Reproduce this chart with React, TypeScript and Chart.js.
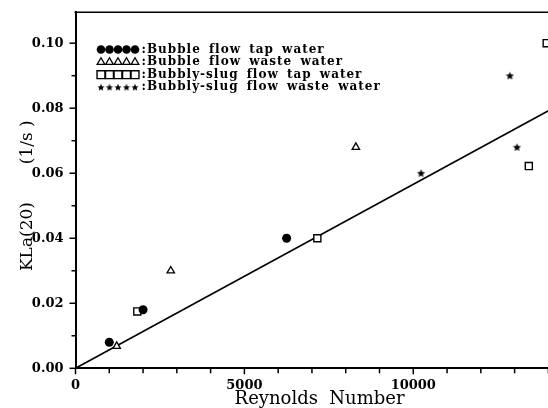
import React, { useEffect, useRef } from 'react';
import { Chart, registerables } from 'chart.js';
import { drawPoint } from 'chart.js/helpers';

Chart.register(...registerables);

// ---- data ----
const bubbleTapX = [1000, 2000, 6250];
const bubbleTapY = [0.008, 0.018, 0.04];
const bubbleWasteX = [1220, 2820, 8300];
const bubbleWasteY = [0.0068, 0.03, 0.068];
const slugTapX = [1830, 7160, 13420, 13950];
const slugTapY = [0.0175, 0.04, 0.0622, 0.1];
const slugWasteX = [10230, 12860, 13070];
const slugWasteY = [0.06, 0.09, 0.068];
const fitX = [0, 14000];
const fitY = [0, 0.0792];
const seriesLabels = [
  'Bubble flow tap water',
  'Bubble flow waste water',
  'Bubbly-slug flow tap water',
  'Bubbly-slug flow waste water',
];
// tick positions (every tick mark) and which of them carry a label
const xTickValues = [0, 1000, 2000, 3000, 4000, 5000, 6000, 7000, 8000, 9000, 10000, 11000, 12000, 13000, 14000];
const xTickLabels = [0, 5000, 10000];
const yTickValues = [0, 0.01, 0.02, 0.03, 0.04, 0.05, 0.06, 0.07, 0.08, 0.09, 0.1];
const yTickLabels = ['0.00', '0.02', '0.04', '0.06', '0.08', '0.10'];

const SERIF = "'DejaVu Serif', serif";

function pts(xs: number[], ys: number[]) {
  return xs.map((x, i) => ({ x, y: ys[i] }));
}

function makeStar(size: number): HTMLCanvasElement {
  const c = document.createElement('canvas');
  c.width = size;
  c.height = size;
  const g = c.getContext('2d')!;
  const cx = size / 2;
  const cy = size / 2 + 0.3;
  const ro = size / 2 - 0.2;
  const ri = ro * 0.45;
  g.beginPath();
  for (let i = 0; i < 10; i++) {
    const r = i % 2 ? ri : ro;
    const a = -Math.PI / 2 + (i * Math.PI) / 5;
    g.lineTo(cx + r * Math.cos(a), cy + r * Math.sin(a));
  }
  g.closePath();
  g.fillStyle = '#000';
  g.fill();
  return c;
}

const yLabelFor = (v: number) => {
  const s = v.toFixed(2);
  return yTickLabels.includes(s) ? s : '';
};

const tickPlugin = {
  id: 'axisTicks',
  afterDraw(chart: any) {
    const { ctx, chartArea, scales } = chart;
    ctx.save();
    ctx.strokeStyle = '#000';
    ctx.lineWidth = 1.5;
    const line = (x1: number, y1: number, x2: number, y2: number) => {
      ctx.beginPath();
      ctx.moveTo(x1, y1);
      ctx.lineTo(x2, y2);
      ctx.stroke();
    };
    scales.y.ticks.forEach((t: any) => {
      const py = scales.y.getPixelForValue(t.value);
      const len = yLabelFor(t.value) ? 6 : 4;
      line(chartArea.left - len, py, chartArea.left, py);
    });
    scales.x.ticks.forEach((t: any) => {
      const px = scales.x.getPixelForValue(t.value);
      const len = xTickLabels.includes(t.value) ? 6 : 5;
      line(px, chartArea.bottom, px, chartArea.bottom + len);
    });
    ctx.lineWidth = 1.6;
    line(chartArea.left - 1, chartArea.top, chartArea.right, chartArea.top);
    ctx.restore();
  },
};

const legendPlugin = {
  id: 'customLegend',
  afterDatasetsDraw(chart: any, _args: any, opts: any) {
    const { ctx, chartArea } = chart;
    const x0 = chartArea.left + opts.markerOffsetX;
    const tx = chartArea.left + opts.textOffsetX;
    let y = chartArea.top + opts.offsetY;
    ctx.save();
    chart.data.datasets.forEach((ds: any) => {
      if (!ds.inLegend) return;
      for (let i = 0; i < 5; i++) {
        const cx = x0 + i * opts.markerSpacing;
        ctx.fillStyle = ds.backgroundColor;
        ctx.strokeStyle = ds.borderColor;
        ctx.lineWidth = ds.borderWidth;
        drawPoint(
          ctx,
          { pointStyle: ds.legendStyle || ds.pointStyle, radius: ds.legendRadius, rotation: 0, borderWidth: ds.borderWidth } as any,
          cx,
          y
        );
      }
      ctx.fillStyle = '#000';
      ctx.font = `bold 12px ${SERIF}`;
      (ctx as any).letterSpacing = '1px';
      (ctx as any).wordSpacing = '3px';
      ctx.textAlign = 'left';
      ctx.textBaseline = 'middle';
      ctx.fillText(':' + ds.label, tx, y);
      y += opts.rowHeight;
    });
    ctx.restore();
  },
};

export default function App() {
  const ref = useRef<HTMLCanvasElement>(null);

  useEffect(() => {
    if (!ref.current) return;
    const star = makeStar(9);
    const legendStar = makeStar(8);
    const chart = new Chart(ref.current, {
      type: 'scatter',
      data: {
        datasets: [
          {
            type: 'scatter',
            label: seriesLabels[0],
            data: pts(bubbleTapX, bubbleTapY),
            pointStyle: 'circle',
            pointRadius: 4.5,
            backgroundColor: '#000',
            borderColor: '#000',
            borderWidth: 0,
            inLegend: true,
            legendRadius: 4.3,
          } as any,
          {
            type: 'scatter',
            label: seriesLabels[1],
            data: pts(bubbleWasteX, bubbleWasteY),
            pointStyle: 'triangle',
            pointRadius: 4.3,
            backgroundColor: '#fff',
            borderColor: '#000',
            borderWidth: 1.3,
            inLegend: true,
            legendRadius: 4.4,
          } as any,
          {
            type: 'scatter',
            label: seriesLabels[2],
            data: pts(slugTapX, slugTapY),
            pointStyle: 'rect',
            pointRadius: 5,
            backgroundColor: '#fff',
            borderColor: '#000',
            borderWidth: 1.4,
            inLegend: true,
            legendRadius: 5.6,
          } as any,
          {
            type: 'scatter',
            label: seriesLabels[3],
            data: pts(slugWasteX, slugWasteY),
            pointStyle: star,
            pointRadius: 4.5,
            backgroundColor: '#000',
            borderColor: '#000',
            borderWidth: 0,
            inLegend: true,
            legendStyle: legendStar,
            legendRadius: 4,
          } as any,
          {
            type: 'line',
            label: 'fit',
            data: pts(fitX, fitY),
            borderColor: '#000',
            borderWidth: 1.6,
            pointRadius: 0,
            fill: false,
            tension: 0,
          } as any,
        ],
      },
      options: {
        animation: false,
        responsive: false,
        events: [],
        layout: { padding: { left: 0, top: 12.3, right: 3, bottom: 0 } },
        plugins: {
          legend: { display: false },
          tooltip: { enabled: false },
          customLegend: {
            markerOffsetX: 25.5,
            markerSpacing: 8.5,
            textOffsetX: 66,
            offsetY: 37.2,
            rowHeight: 12.6,
          },
        } as any,
        scales: {
          x: {
            type: 'linear',
            position: 'bottom',
            min: 0,
            max: 14450,
            afterFit(s: any) {
              s.height = 39.7;
              s.paddingLeft = 0;
              s.paddingRight = 0;
            },
            afterBuildTicks(s: any) {
              s.ticks = xTickValues.map((v) => ({ value: v }));
            },
            grid: { display: false, drawTicks: false },
            border: { display: true, color: '#000', width: 2 },
            ticks: {
              autoSkip: false,
              maxRotation: 0,
              padding: 10,
              color: '#000',
              font: { family: SERIF, weight: 'bold', size: 13 },
              callback: (v: any) => (xTickLabels.includes(Number(v)) ? String(v) : ''),
            },
            title: {
              display: true,
              text: 'Reynolds  Number',
              color: '#000',
              font: { family: SERIF, size: 18 },
              padding: { top: 0, bottom: -2 },
            },
          },
          y: {
            type: 'linear',
            min: 0,
            max: 0.1095,
            afterFit(s: any) {
              s.width = 75.5;
              s.paddingTop = 0;
              s.paddingBottom = 0;
            },
            afterBuildTicks(s: any) {
              s.ticks = yTickValues.map((v) => ({ value: v }));
            },
            grid: { display: false, drawTicks: false },
            border: { display: true, color: '#000', width: 2 },
            ticks: {
              autoSkip: false,
              padding: 12,
              color: '#000',
              font: { family: SERIF, weight: 'bold', size: 13 },
              callback: (v: any) => yLabelFor(Number(v)),
            },
            title: {
              display: true,
              text: 'KLa(20)       (1/s )  ',
              color: '#000',
              font: { family: SERIF, size: 17 },
              padding: { top: 17, bottom: 0 },
            },
          },
        },
      } as any,
      plugins: [tickPlugin, legendPlugin],
    });
    return () => chart.destroy();
  }, []);

  return (
    <div
      style={{
        position: 'absolute',
        left: 0,
        top: 0,
        width: 548,
        height: 408,
        overflow: 'hidden',
        background: '#fff',
      }}
    >
      <canvas ref={ref} width={570} height={408} style={{ display: 'block' }} />
    </div>
  );
}
